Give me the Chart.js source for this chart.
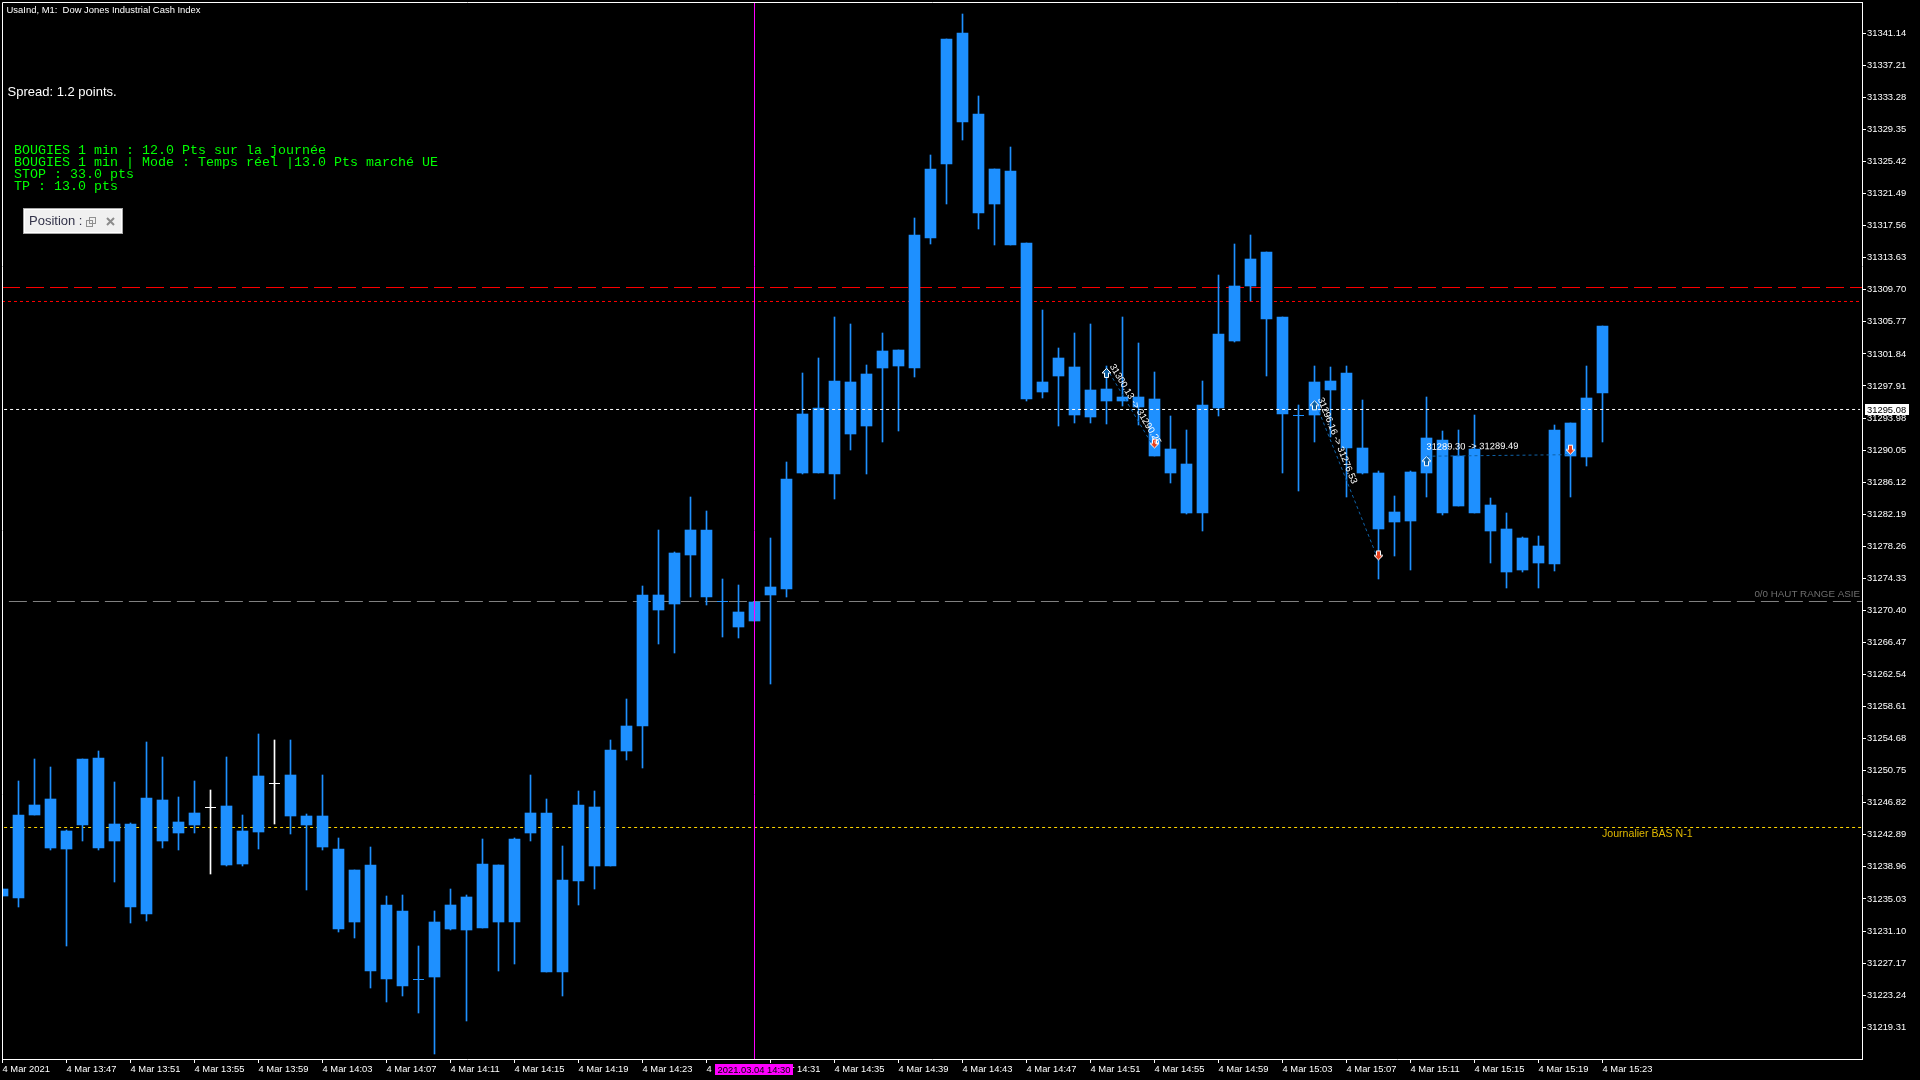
<!DOCTYPE html>
<html>
<head>
<meta charset="utf-8">
<style>html,body{margin:0;padding:0;background:#000;overflow:hidden}canvas{display:block}</style>
<script src="https://cdn.jsdelivr.net/npm/chart.js@4"></script>
</head>
<body>
<canvas id="c" width="1920" height="1080"></canvas>
<script>
const candleHigh = [31236.24,31249.48,31252.18,31251.20,31243.48,31252.18,31253.16,31249.36,31244.33,31254.26,31252.42,31247.52,31249.48,31248.38,31252.42,31245.31,31255.24,31254.51,31254.51,31245.44,31250.22,31242.50,31238.57,31241.39,31235.39,31235.51,31229.26,31233.55,31236.24,31235.51,31242.37,31239.19,31242.50,31250.22,31247.28,31241.51,31248.26,31248.26,31254.51,31259.53,31273.39,31280.25,31277.55,31284.29,31282.58,31274.24,31273.51,31271.42,31279.27,31288.59,31299.49,31301.33,31306.36,31305.50,31300.48,31304.40,31302.31,31318.50,31326.22,31340.44,31343.50,31333.45,31324.50,31327.20,31315.43,31307.22,31302.56,31304.40,31305.50,31300.36,31306.36,31303.18,31299.62,31294.22,31292.51,31298.51,31311.51,31315.31,31316.41,31314.33,31306.36,31295.57,31300.35,31300.23,31300.35,31296.19,31287.48,31284.42,31287.48,31296.55,31292.39,31292.51,31294.35,31284.17,31282.33,31279.39,31279.51,31293.12,31293.37,31300.36,31305.26];
const candleBodyTop = [31236.24,31245.31,31246.54,31247.28,31243.35,31252.18,31252.30,31244.21,31244.21,31247.40,31247.15,31244.46,31245.56,31246.25,31246.42,31243.35,31250.10,31249.20,31250.22,31245.19,31245.19,31241.15,31238.57,31239.19,31234.28,31233.55,31225.17,31232.20,31234.28,31235.26,31239.31,31239.19,31242.37,31245.56,31245.56,31237.35,31246.54,31246.30,31253.28,31256.22,31272.28,31272.28,31277.43,31280.25,31280.25,31271.51,31270.20,31271.42,31273.26,31286.50,31294.47,31295.20,31298.51,31298.39,31299.37,31302.19,31302.31,31316.41,31324.50,31340.44,31341.17,31331.25,31324.50,31324.26,31315.43,31298.39,31301.33,31300.23,31297.41,31297.54,31296.56,31296.56,31296.31,31290.18,31288.34,31295.57,31304.28,31310.16,31313.47,31314.33,31306.36,31294.35,31298.39,31298.51,31299.49,31290.30,31287.24,31282.46,31287.36,31291.53,31291.28,31289.32,31290.18,31283.31,31280.37,31279.27,31278.29,31292.51,31293.37,31296.43,31305.26];
const candleBodyBottom = [31235.39,31235.14,31245.31,31241.27,31241.15,31244.09,31241.27,31242.13,31234.04,31233.18,31242.13,31243.11,31244.09,31246.25,31239.19,31239.31,31243.23,31249.20,31245.19,31244.09,31241.39,31231.34,31232.20,31226.19,31225.21,31224.35,31225.17,31225.46,31231.34,31231.22,31231.46,31232.20,31232.20,31243.11,31226.07,31226.07,31237.22,31239.06,31239.06,31253.16,31256.22,31270.44,31271.18,31277.19,31272.04,31271.51,31268.36,31269.10,31272.28,31273.02,31287.24,31287.24,31287.11,31292.02,31293.00,31300.11,31300.35,31300.11,31316.05,31325.12,31330.27,31319.11,31320.21,31315.19,31296.31,31297.17,31299.13,31294.35,31294.10,31296.06,31296.06,31295.33,31289.32,31287.24,31282.33,31282.33,31295.21,31303.42,31310.16,31306.11,31294.47,31294.35,31294.35,31297.41,31290.30,31287.24,31280.37,31281.23,31281.35,31287.24,31282.33,31283.19,31282.33,31280.13,31275.10,31275.35,31276.20,31276.08,31289.32,31289.20,31297.05];
const candleLow = [31235.39,31234.04,31245.31,31241.02,31229.26,31242.13,31241.02,31237.10,31232.08,31232.32,31241.27,31241.02,31243.11,31238.08,31239.06,31239.06,31241.15,31244.21,31242.99,31236.12,31241.02,31230.97,31230.24,31224.11,31222.39,31223.13,31221.04,31216.02,31231.22,31220.06,31231.46,31226.19,31227.05,31242.13,31226.07,31223.13,31234.28,31236.24,31239.06,31252.06,31251.08,31266.28,31265.17,31272.04,31271.06,31267.17,31267.01,31269.10,31261.37,31272.04,31287.11,31287.24,31284.05,31290.06,31287.11,31291.04,31292.39,31299.01,31315.31,31320.21,31328.06,31317.15,31315.19,31315.19,31296.07,31296.43,31293.00,31293.37,31293.37,31293.24,31295.45,31293.12,31289.32,31286.01,31282.21,31280.13,31294.23,31303.29,31308.32,31299.13,31287.24,31285.03,31291.04,31291.69,31284.29,31287.11,31274.24,31277.06,31275.35,31284.29,31282.09,31283.19,31282.33,31276.20,31273.14,31275.10,31273.14,31275.22,31284.29,31288.09,31291.04];
const whiteDojiIndexes = [13, 17];

const priceTicks = [31341.14,31337.21,31333.28,31329.35,31325.42,31321.49,31317.56,31313.63,31309.70,31305.77,31301.84,31297.91,31293.98,31290.05,31286.12,31282.19,31278.26,31274.33,31270.40,31266.47,31262.54,31258.61,31254.68,31250.75,31246.82,31242.89,31238.96,31235.03,31231.10,31227.17,31223.24,31219.31];
const timeTickIndexes = [0,4,8,12,16,20,24,28,32,36,40,44,48,52,56,60,64,68,72,76,80,84,88,92,96,100];
const timeTickLabels = ["4 Mar 2021","4 Mar 13:47","4 Mar 13:51","4 Mar 13:55","4 Mar 13:59","4 Mar 14:03","4 Mar 14:07","4 Mar 14:11","4 Mar 14:15","4 Mar 14:19","4 Mar 14:23","4 Mar 14:27","4 Mar 14:31","4 Mar 14:35","4 Mar 14:39","4 Mar 14:43","4 Mar 14:47","4 Mar 14:51","4 Mar 14:55","4 Mar 14:59","4 Mar 15:03","4 Mar 15:07","4 Mar 15:11","4 Mar 15:15","4 Mar 15:19","4 Mar 15:23"];

const levelRedLong = 31309.98;
const levelRedShort = 31308.27;
const levelBid = 31295.03;
const levelAsia = 31271.49;
const levelDaily = 31243.79;
const bidLabel = "31295.08";
const cursorIndex = 47;
const cursorLabel = "2021.03.04 14:30";

const tradeEntryIndex = [69, 82, 89];
const tradeExitIndex = [72, 86, 98];
const tradeEntryPrice = [31300.13, 31296.16, 31289.30];
const tradeExitPrice = [31290.25, 31276.53, 31289.49];

const titleText = "UsaInd, M1:  Dow Jones Industrial Cash Index";
const spreadText = "Spread: 1.2 points.";
const infoLines = ["BOUGIES 1 min : 12.0 Pts sur la journée","BOUGIES 1 min | Mode : Temps réel |13.0 Pts marché UE","STOP : 33.0 pts","TP : 13.0 pts"];

const Y_MAX = 31344.98, Y_MIN = 31215.41, X_MIN = -0.03125, X_MAX = 116.21875;
const BLUE = "#1e90ff";
const SANS = '"Liberation Sans", Arial, sans-serif';

function arrowCanvas(up, fill) {
  const cv = document.createElement("canvas");
  cv.width = 11; cv.height = 22;
  const g = cv.getContext("2d");
  const pts = up
    ? [[5.5,11.5],[10,16],[7.5,16],[7.5,20.5],[3.5,20.5],[3.5,16],[1,16]]
    : [[5.5,10.5],[10,6],[7.5,6],[7.5,1.5],[3.5,1.5],[3.5,6],[1,6]];
  g.beginPath();
  pts.forEach((p,i)=> i ? g.lineTo(p[0],p[1]) : g.moveTo(p[0],p[1]));
  g.closePath();
  g.fillStyle = fill; g.fill();
  g.strokeStyle = "#fff"; g.lineWidth = 1; g.stroke();
  return cv;
}

const indexes = candleHigh.map((_, i) => i);
const solid = indexes.filter(i => candleBodyTop[i] !== candleBodyBottom[i]);
const dojis = indexes.filter(i => candleBodyTop[i] === candleBodyBottom[i]);
const lineColor = i => whiteDojiIndexes.includes(i) ? "#ffffff" : BLUE;

function level(value, color, dash, from, to, order) {
  return { type:"line", data:[{x:from,y:value},{x:to,y:value}], borderColor:color, borderWidth:1,
           borderDash:dash, pointRadius:0, order, tension:0, fill:false };
}

const datasets = [
  level(levelRedLong, "#ff0000", [18,6], X_MIN, X_MAX, 10),
  level(levelRedShort, "#ff0000", [3,3], X_MIN, 116.1, 10),
  level(levelAsia, "#808080", [18,6], 0.4, X_MAX, 10),
  level(levelDaily, "#ffd700", [3,3], 0.1, X_MAX, 10),
  { type:"bar", data: indexes.map(i => ({x:i, y:[candleLow[i], candleHigh[i]]})),
    backgroundColor: indexes.map(lineColor), borderWidth:0, grouped:false,
    barPercentage:1, categoryPercentage:1, maxBarThickness:1, order:8 },
  { type:"bar", data: solid.map(i => ({x:i, y:[candleBodyBottom[i], candleBodyTop[i]]})),
    backgroundColor: BLUE, borderWidth:0, grouped:false,
    barPercentage:1, categoryPercentage:1, maxBarThickness:11, order:7 },
  { type:"scatter", data: dojis.map(i => ({x:i, y:candleBodyTop[i]})),
    pointStyle:"line", pointRadius:5.5, pointBorderColor: dojis.map(lineColor), pointBorderWidth:1,
    pointBackgroundColor: dojis.map(lineColor), order:7, showLine:false },
  level(levelBid, "#ffffff", [3,3], 0.1, 116.1, 5),
  { type:"line", data:[{x:cursorIndex,y:Y_MIN},{x:cursorIndex,y:Y_MAX}], borderColor:"#ff00ff",
    borderWidth:1, pointRadius:0, order:4 }
];
tradeEntryIndex.forEach((e, t) => {
  datasets.push({ type:"line", data:[{x:e,y:tradeEntryPrice[t]},{x:tradeExitIndex[t],y:tradeExitPrice[t]}],
    borderColor:"#0f62a8", borderWidth:1, borderDash:[3,3], pointRadius:0, order:3 });
});
datasets.push({ type:"scatter", data: tradeEntryIndex.map((e,t)=>({x:e,y:tradeEntryPrice[t]})),
  pointStyle: arrowCanvas(true, "#0b5c9e"), pointRadius:5, order:2, showLine:false });
datasets.push({ type:"scatter", data: tradeExitIndex.map((e,t)=>({x:e,y:tradeExitPrice[t]})),
  pointStyle: arrowCanvas(false, "#e8401c"), pointRadius:5, order:2, showLine:false });

const snapBars = {
  id:"snapBars",
  afterDatasetsUpdate(chart) {
    chart.getSortedVisibleDatasetMetas().forEach(meta => {
      if (meta.type === "bar") meta.data.forEach(el => { el.y = Math.round(el.y); el.base = Math.round(el.base); el.height = el.base - el.y; });
      if (meta.type === "scatter" && meta._dataset.pointStyle === "line") meta.data.forEach(el => { el.y = Math.floor(el.y) + 0.5; });
    });
  }
};

const annotations = {
  id:"annotations",
  afterDatasetsDraw(chart) {
    const g = chart.ctx, xs = chart.scales.x, ys = chart.scales.y, a = chart.chartArea;
    g.save();
    g.textBaseline = "middle"; g.textAlign = "left";

    // trade labels follow each trade line
    const offs = [6, 6, 9];
    g.font = "9.4px " + SANS; g.fillStyle = "#ffffff";
    tradeEntryIndex.forEach((e, t) => {
      const x0 = xs.getPixelForValue(e), y0 = ys.getPixelForValue(tradeEntryPrice[t]);
      const x1 = xs.getPixelForValue(tradeExitIndex[t]), y1 = ys.getPixelForValue(tradeExitPrice[t]);
      const ang = Math.atan2(y1 - y0, x1 - x0);
      g.save();
      g.translate(x0, y0); g.rotate(ang);
      g.fillText(tradeEntryPrice[t].toFixed(2) + " -> " + tradeExitPrice[t].toFixed(2), 0, -offs[t]);
      g.restore();
    });

    // frame top/left
    g.strokeStyle = "#fff"; g.lineWidth = 1;
    g.beginPath();
    g.moveTo(2.5, a.bottom); g.lineTo(2.5, 2.5); g.lineTo(a.right + 1, 2.5);
    g.stroke();

    // header text
    g.fillStyle = "#ffffff";
    g.font = "9.45px " + SANS;
    g.fillText(titleText, 6.5, 10);
    g.font = "13px " + SANS;
    g.fillText(spreadText, 7.5, 92);

    g.fillStyle = "#00ff00";
    g.font = '13.33px "Liberation Mono", monospace';
    infoLines.forEach((s, i) => g.fillText(s, 14, 150 + i * 12));

    // level captions
    g.fillStyle = "#e0b800";
    g.font = "10.6px " + SANS;
    g.fillText("Journalier BAS N-1", 1602, 834.5);
    g.fillStyle = "#6e6e6e";
    g.font = "9.8px " + SANS;
    g.textAlign = "right";
    g.fillText("0/0 HAUT RANGE ASIE", 1860, 594.5);
    g.textAlign = "left";

    // floating panel
    g.fillStyle = "#ffffff"; g.fillRect(23, 208, 100, 26);
    g.strokeStyle = "#a8a8a8"; g.strokeRect(23.5, 208.5, 99, 25);
    g.fillStyle = "#f0f0f0"; g.fillRect(25, 210, 96, 22);
    g.fillStyle = "#33334a"; g.font = "13px " + SANS;
    g.fillText("Position :", 29, 221.5);
    g.strokeStyle = "#909090"; g.lineWidth = 1;
    g.strokeRect(89.5, 217.5, 6, 6); g.strokeRect(86.5, 220.5, 6, 6);
    g.strokeStyle = "#8c8c8c"; g.lineWidth = 2;
    g.beginPath(); g.moveTo(107, 218); g.lineTo(114, 225); g.moveTo(114, 218); g.lineTo(107, 225); g.stroke();
    g.lineWidth = 1;

    // bid label on price axis
    g.fillStyle = "#ffffff"; g.fillRect(1865, 404, 44, 11);
    g.fillStyle = "#000000"; g.font = "9.4px " + SANS;
    g.fillText(bidLabel, 1867, 410);

    // cursor label on time axis
    g.fillStyle = "#ff00ff"; g.fillRect(715, 1064, 78, 11);
    g.fillStyle = "#000000";
    g.fillText(cursorLabel, 717.5, 1070);
    g.restore();
  }
};

const zeroPad = s => { s.paddingTop = s.paddingBottom = s.paddingLeft = s.paddingRight = 0; };

new Chart(document.getElementById("c"), {
  type:"bar",
  data:{ datasets },
  plugins:[snapBars, annotations],
  options:{
    responsive:false, animation:false, devicePixelRatio:1,
    events:[],
    layout:{ autoPadding:false, padding:{ left:2, top:2, right:0, bottom:0 } },
    plugins:{ legend:{display:false}, tooltip:{enabled:false}, title:{display:false} },
    scales:{
      x:{ type:"linear", min:X_MIN, max:X_MAX, offset:false, position:"bottom",
        grid:{ drawOnChartArea:false, drawTicks:true, tickLength:4, tickColor:"#fff", offset:false },
        border:{ display:true, color:"#fff", width:1 },
        afterBuildTicks(s){ s.ticks = timeTickIndexes.map(v => ({value:v})); },
        afterFit(s){ s.height = 21; zeroPad(s); },
        ticks:{ align:"start", autoSkip:false, maxRotation:0, minRotation:0, padding:1, color:"#fff",
          font:{ family:SANS, size:9.4 },
          callback(v){ return timeTickLabels[timeTickIndexes.indexOf(v)]; } } },
      y:{ type:"linear", min:Y_MIN, max:Y_MAX, position:"right",
        grid:{ drawOnChartArea:false, drawTicks:true, tickLength:4, tickColor:"#fff" },
        border:{ display:true, color:"#fff", width:1 },
        afterBuildTicks(s){ s.ticks = priceTicks.map(v => ({value:v})); },
        afterFit(s){ s.width = 58; zeroPad(s); },
        ticks:{ autoSkip:false, padding:1, color:"#fff", font:{ family:SANS, size:9.4 },
          callback(v){ return v.toFixed(2); } } }
    }
  }
});
</script>
</body>
</html>
